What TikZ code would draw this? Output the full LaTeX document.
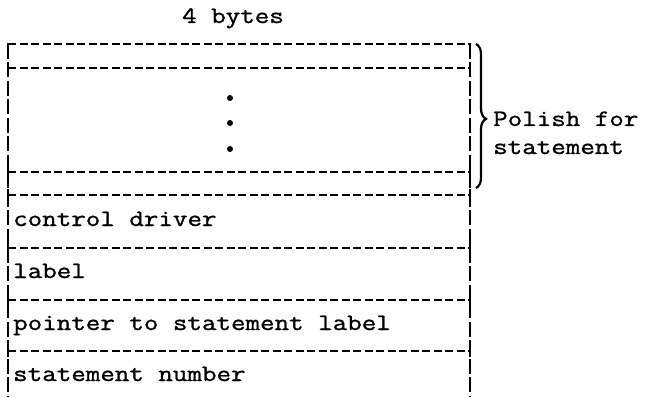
\documentclass[tikz,border=0pt]{standalone}
\usepackage{fontspec}
\setmonofont[FakeStretch=1.2,FakeBold=1.2]{Latin Modern Mono}
\usetikzlibrary{decorations.pathreplacing}
\begin{document}
\begin{tikzpicture}[x=1pt,y=-1pt,
  hline/.style={line width=1.9pt, dash pattern=on 8pt off 3.5pt},
  vline/.style={line width=2.4pt, dash pattern=on 15pt off 3.5pt},
  tick/.style={line width=2.4pt},
  txt/.style={font=\ttfamily\fontsize{23.5}{28}\selectfont, inner sep=0pt, anchor=base west},
  dotmark/.style={circle, fill=black, inner sep=0pt, minimum size=6pt},
  bracedeco/.style={decorate, decoration={brace, amplitude=10pt, aspect=0.52}, line width=2.2pt}
  ]
\useasboundingbox (0,0) rectangle (645,398);
% corner coordinates
\coordinate (tl) at (8,44);
\coordinate (tr) at (470,44);
\coordinate (bl) at (8,396);
\coordinate (br) at (470,396);
% vertical sides
\draw[vline] (tl) -- (bl);
\draw[vline] (tr) -- (br);
% top line and corners
\draw[hline] (tl) -- (tr);
\draw[tick] (8,43) -- (8,54);
\draw[tick] (470,43) -- (470,54);
% horizontal dividers with junction ticks
\foreach \yy/\nm in {68/a,172/b,195/c,248/d,300/e,351/f}{
  \coordinate (l\nm) at (8,\yy);
  \coordinate (r\nm) at (470,\yy);
  \draw[hline] (l\nm) -- (r\nm);
  \draw[tick] (8,\yy-6) -- (8,\yy+6);
  \draw[tick] (470,\yy-6) -- (470,\yy+6);
}
% header
\node[txt, anchor=base] (hdr) at (233,23) {4 bytes};
% ellipsis dots
\node[dotmark] (d1) at (230,98) {};
\node[dotmark] (d2) at (230,123) {};
\node[dotmark] (d3) at (230,149) {};
% row texts
\node[txt] (r1) at (13,226) {control driver};
\node[txt] (r2) at (13,278) {label};
\node[txt] (r3) at (13,330) {pointer to statement label};
\node[txt] (r4) at (13,381) {statement number};
% brace
\coordinate (btop) at (476,44);
\coordinate (bbot) at (476,188);
\draw[bracedeco] (btop) -- (bbot);
\node[txt] (pol) at (493,126) {Polish for};
\node[txt] (sta) at (493,154) {statement};
\end{tikzpicture}
\end{document}
